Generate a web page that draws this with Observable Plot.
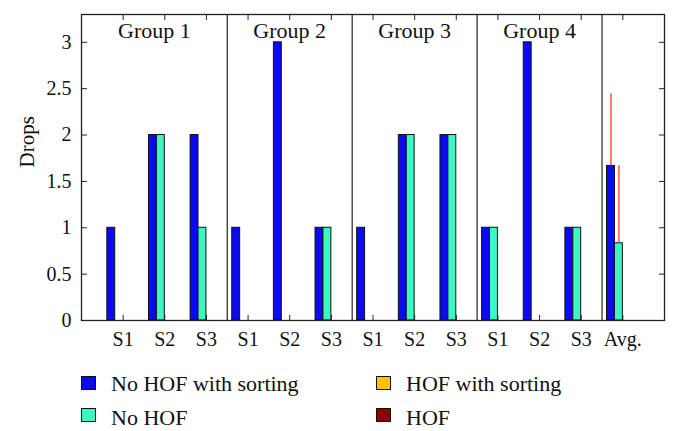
<!DOCTYPE html>
<html>
<head>
<meta charset="utf-8">
<script src="https://cdn.jsdelivr.net/npm/d3@7"></script>
<script src="https://cdn.jsdelivr.net/npm/@observablehq/plot@0.6"></script>
<style>
  html, body { margin: 0; padding: 0; background: #fff; overflow: hidden; }
  body { width: 678px; height: 431px; position: relative; font-family: "Liberation Serif", "Times New Roman", serif; }
  #chart { position: absolute; left: 0; top: 0; }
  .sw { position: absolute; width: 13px; height: 12px; border: 1px solid #111; }
  .lt { position: absolute; font-family: "Liberation Serif", "Times New Roman", serif; font-size: 22px; line-height: 22px; color: #111; white-space: nowrap; }
</style>
</head>
<body>
<div id="chart"></div>
<div id="legend"></div>
<script>
// ---- data ----
const categories = ["S1","S2","S3","S1","S2","S3","S1","S2","S3","S1","S2","S3","Avg."];
const series = ["No HOF with sorting", "No HOF", "HOF with sorting", "HOF"];
const colors = ["#0b0bf2", "#3cf7c2", "#ffc300", "#8e0000"];
const noHofSorting = [1, 2, 2, 1, 3, 1, 1, 2, 2, 1, 3, 1, 1.667];
const noHof        = [0, 2, 1, 0, 0, 1, 0, 2, 2, 1, 0, 1, 0.833];
const hofSorting   = [0, 0, 0, 0, 0, 0, 0, 0, 0, 0, 0, 0, 0];
const hof          = [0, 0, 0, 0, 0, 0, 0, 0, 0, 0, 0, 0, 0];
const avgError = [0.778, 0.835, 0, 0];   // error (upper) on the Avg. bars
const groups = ["Group 1", "Group 2", "Group 3", "Group 4"];
const groupLabelPos = [0.75, 4, 7, 10];
const groupSeparators = [2.5, 5.5, 8.5, 11.5];
const yTicks = [0, 0.5, 1, 1.5, 2, 2.5, 3];
const yTickLabels = ["0", "0.5", "1", "1.5", "2", "2.5", "3"];

// ---- table ----
const values = [noHofSorting, noHof, hofSorting, hof];
const barW = 0.19;
const bars = [];
categories.forEach((c, i) => {
  values.forEach((vals, s) => {
    const center = i + (s - 1.5) * barW;
    bars.push({cat: i, series: series[s], s, value: vals[i], x1: center - barW / 2, x2: center + barW / 2, xc: center});
  });
});
const avgIndex = categories.length - 1;
const errs = bars.filter(d => d.cat === avgIndex && avgError[d.s] > 0)
  .map(d => ({x: d.xc, y1: d.value, y2: d.value + avgError[d.s]}));
const xTicks = categories.map((c, i) => i);
const font = '"Liberation Serif", "Times New Roman", serif';

const plot = Plot.plot({
  width: 678,
  height: 352,
  marginTop: 14,
  marginBottom: 32,
  marginLeft: 81,
  marginRight: 14,
  style: {fontFamily: font, fontSize: "20px", color: "#111", background: "#fff"},
  x: {type: "linear", domain: [-1, categories.length], axis: null},
  y: {domain: [0, 3.3], axis: null},
  color: {domain: series, range: colors},
  marks: [
    // inward ticks on all sides
    Plot.axisY({anchor: "left", ticks: yTicks, tickSize: -6, tickFormat: () => "", stroke: "#222"}),
    Plot.axisY({anchor: "right", ticks: yTicks, tickSize: -6, tickFormat: () => "", stroke: "#222"}),
    Plot.axisX({anchor: "top", ticks: xTicks, tickSize: -5, tickFormat: () => "", stroke: "#222"}),
    Plot.axisX({anchor: "bottom", ticks: xTicks, tickSize: -5, tickFormat: () => "", stroke: "#222"}),
    // bars
    Plot.rectY(bars, {x1: "x1", x2: "x2", y1: 0, y2: "value", fill: "series", stroke: "#111", strokeWidth: 1}),
    // error bars
    Plot.ruleX(errs, {x: "x", y1: "y1", y2: "y2", stroke: "#ff2a1a", strokeWidth: 1.2}),
    // group separators and frame
    Plot.ruleX(groupSeparators, {stroke: "#222", strokeWidth: 1.2}),
    Plot.frame({stroke: "#222", strokeWidth: 1.3}),
    // labels
    Plot.axisY({anchor: "left", ticks: yTicks, tickSize: 0, tickPadding: 10, tickFormat: d => yTickLabels[yTicks.indexOf(d)], fontSize: 20, fill: "#111"}),
    Plot.axisX({anchor: "bottom", ticks: xTicks, tickSize: 0, tickPadding: 11, tickFormat: d => categories[d], fontSize: 20, fill: "#111"}),
    Plot.text(groups, {x: (d, i) => groupLabelPos[i], y: 3.125, text: d => d, fontSize: 22, fill: "#111"}),
    Plot.text(["Drops"], {frameAnchor: "left", dx: -54, rotate: -90, text: d => d, fontSize: 21, fill: "#111"})
  ]
});
document.getElementById("chart").appendChild(plot);

// ---- legend ----
const legend = document.getElementById("legend");
const legCols = [81, 376];
const legSwatchTop = [376, 408];
const legTextTop = [373, 407];
series.forEach((name, s) => {
  const col = Math.floor(s / 2), row = s % 2;
  const sw = document.createElement("div");
  sw.className = "sw";
  sw.style.background = colors[s];
  sw.style.left = legCols[col] + "px";
  sw.style.top = legSwatchTop[row] + "px";
  const label = document.createElement("div");
  label.className = "lt";
  label.textContent = name;
  label.style.left = (legCols[col] + 30) + "px";
  label.style.top = legTextTop[row] + "px";
  legend.appendChild(sw);
  legend.appendChild(label);
});
</script>
</body>
</html>
